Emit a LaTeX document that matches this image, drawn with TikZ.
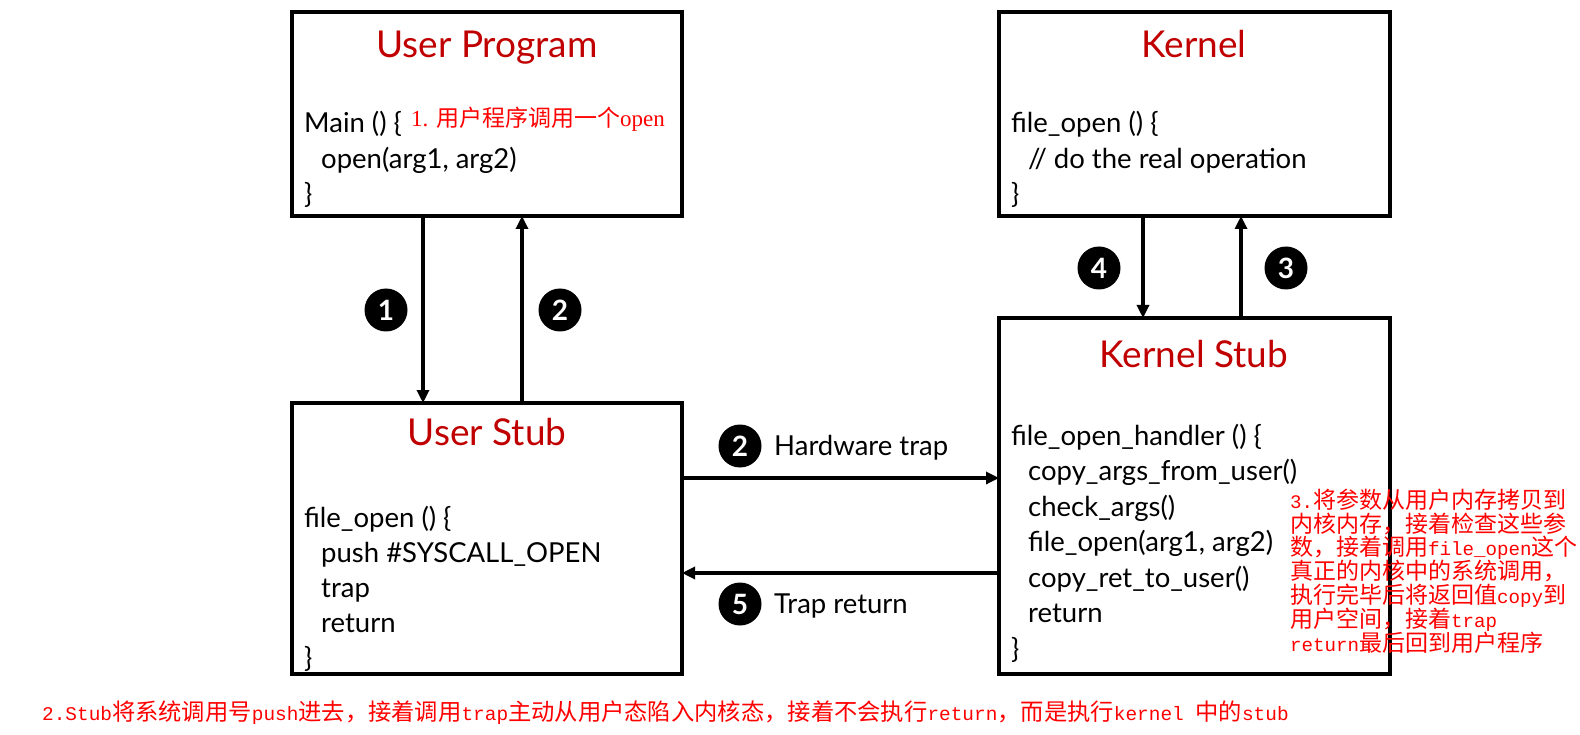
\documentclass[tikz,border=0pt]{standalone}
\usepackage{fontspec}
\setmainfont{Lato}
\newfontfamily\cjkf{Noto Sans CJK SC}
\newfontfamily\amono{Liberation Mono}[Scale=0.833]
\newfontfamily\aserif{Liberation Serif}
\usetikzlibrary{arrows.meta}
\definecolor{titlered}{HTML}{C00000}
\definecolor{annred}{HTML}{FF0000}
\tikzset{
  box/.style={draw, line width=3.4pt, anchor=north west, inner sep=0pt, outer sep=0pt},
  title/.style={text=titlered, font=\fontsize{37}{42}\selectfont, anchor=base, inner sep=0pt},
  code/.style={font=\fontsize{27.5}{32}\selectfont, anchor=base west, inner sep=0pt},
  arr/.style={line width=3.2pt, -{Triangle[length=13pt,width=12pt]}},
  num/.style={circle, fill=black, text=white, minimum size=43pt, inner sep=0pt, font=\fontsize{28}{28}\selectfont\bfseries},
  note/.style={text=annred, anchor=base west, inner sep=0pt, align=left},
}
\begin{document}
\begin{tikzpicture}[x=1pt,y=-1pt]
\useasboundingbox (0,0) rectangle (1580,735);
% boxes
\node[box, minimum width=390pt, minimum height=204pt] (up) at (292,12) {};
\node[box, minimum width=391pt, minimum height=204pt] (kn) at (999,12) {};
\node[box, minimum width=390pt, minimum height=271pt] (us) at (292,403) {};
\node[box, minimum width=391pt, minimum height=356pt] (ks) at (999,318) {};
% titles
\node[title] (t1) at (487,58) {User Program};
\node[title] (t2) at (1194,58) {Kernel};
\node[title] (t3) at (487,445) {User Stub};
\node[title] (t4) at (1194,367) {Kernel Stub};
% user program code
\node[code] (u1) at (304,133) {Main () \{};
\node[code] (u2) at (321,168.5) {open(arg1, arg2)};
\node[code] (u3) at (304,204) {\}};
% kernel code
\node[code] (k1) at (1011,133) {file\_open () \{};
\node[code] (k2) at (1028,168.5) {// do the real operation};
\node[code] (k3) at (1011,204) {\}};
% user stub code
\node[code] (s1) at (304,527) {file\_open () \{};
\node[code] (s2) at (321,562) {push \#SYSCALL\_OPEN};
\node[code] (s3) at (321,597) {trap};
\node[code] (s4) at (321,632) {return};
\node[code] (s5) at (304,667) {\}};
% kernel stub code
\node[code] (h1) at (1011,445) {file\_open\_handler () \{};
\node[code] (h2) at (1028,480.5) {copy\_args\_from\_user()};
\node[code] (h3) at (1028,516) {check\_args()};
\node[code] (h4) at (1028,551.5) {file\_open(arg1, arg2)};
\node[code] (h5) at (1028,587) {copy\_ret\_to\_user()};
\node[code] (h6) at (1028,622.5) {return};
\node[code] (h7) at (1011,658) {\}};
% connectors
\coordinate (x1) at (423,0);
\coordinate (x2) at (522,0);
\coordinate (x4) at (1143,0);
\coordinate (x3) at (1241,0);
\coordinate (yh) at (0,478);
\coordinate (yr) at (0,573);
\draw[arr] (x1 |- up.south) -- (x1 |- us.north);
\draw[arr] (x2 |- us.north) -- (x2 |- up.south);
\draw[arr] (x4 |- kn.south) -- (x4 |- ks.north);
\draw[arr] (x3 |- ks.north) -- (x3 |- kn.south);
\draw[arr] (us.east |- yh) -- (ks.west |- yh);
\draw[arr] (ks.west |- yr) -- (us.east |- yr);
% number circles
\node[num] (c1) at (386,310) {1};
\node[num] (c2) at (560,310) {2};
\node[num] (c4) at (1099,268) {4};
\node[num] (c3) at (1286,268) {3};
\node[num] (c2b) at (740,446) {2};
\node[num] (c5) at (740,604) {5};
\node[code] (lh) at (774,455) {Hardware trap};
\node[code] (lr) at (774,613) {Trap return};
% annotations
\node[note, font=\fontsize{23}{26}\selectfont] (n1) at (411,127) {\aserif 1. \cjkf 用户程序调用一个\aserif open};
\node[note, font=\fontsize{23}{23.8}\selectfont] (n3) at (1290,651) {{\amono 3.}{\cjkf 将参数从用户内存拷贝到}\\
{\cjkf 内核内存，接着检查这些参}\\
{\cjkf 数，接着调用}{\amono file\_open}{\cjkf 这个}\\
{\cjkf 真正的内核中的系统调用，}\\
{\cjkf 执行完毕后将返回值}{\amono copy}{\cjkf 到}\\
{\cjkf 用户空间，接着}{\amono trap}\\
{\amono return}{\cjkf 最后回到用户程序}};
\node[note, font=\fontsize{23.3}{26}\selectfont] (n2) at (42,720) {{\amono 2.Stub}{\cjkf 将系统调用号}{\amono push}{\cjkf 进去，接着调用}{\amono trap}{\cjkf 主动从用户态陷入内核态，接着不会执行}{\amono return}{\cjkf ，而是执行}{\amono kernel }{\cjkf 中的}{\amono stub}};
\end{tikzpicture}
\end{document}
